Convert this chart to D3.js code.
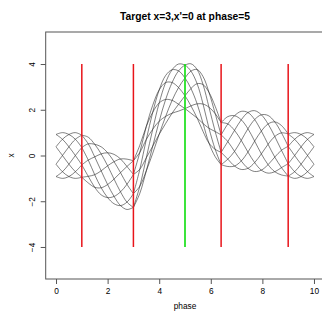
<!DOCTYPE html>
<html>
<head>
<meta charset="utf-8">
<script src="https://cdnjs.cloudflare.com/ajax/libs/d3/7.8.5/d3.min.js"></script>
<style>
body { margin: 0; background: #fff; }
text { font-family: "Liberation Sans", Arial, sans-serif; fill: #000; }
</style>
</head>
<body>
<div class="svg-container"></div>
<script>
// sample phases (shared by every trajectory)
var phase = [0, 0.25, 0.5, 0.75, 1, 1.25, 1.5, 1.75, 2, 2.25, 2.5, 2.75, 3,
    3.25, 3.5, 3.75, 4, 4.25, 4.5, 4.75, 5, 5.23, 5.47, 5.7, 5.93, 6.17, 6.4,
    6.66, 6.92, 7.18, 7.44, 7.7, 7.96, 8.22, 8.48, 8.74, 9, 9.25, 9.5, 9.75, 10];

// x values of the 8 trajectories
var traj1 = [0.92, 0.71, 0.38, 0, -0.41, -0.91, -1.39, -1.72, -1.84, -1.79, -1.59, -1.26, -0.83, 0.14, 1.27, 2.2, 2.87, 3.19, 3.19, 2.97, 2.61, 2.17, 1.64, 1.05, 0.54, 0.27, 0.14, 0.61, 1.10, 1.56, 1.88, 1.96, 1.78, 1.38, 0.83, 0.23, -0.36, -0.71, -0.92, -1, -0.92];
var traj2 = [0.38, 0, -0.38, -0.71, -0.95, -1.2, -1.39, -1.41, -1.27, -1.03, -0.75, -0.48, -0.23, 0.45, 1.27, 1.89, 2.30, 2.45, 2.41, 2.24, 2.05, 1.85, 1.64, 1.4, 1.19, 1.05, 0.9, 1.38, 1.74, 1.93, 1.88, 1.57, 1.07, 0.49, -0.07, -0.53, -0.90, -1, -0.92, -0.71, -0.38];
var traj3 = [-0.38, -0.71, -0.92, -1, -0.95, -0.91, -0.84, -0.67, -0.45, -0.27, -0.15, -0.16, -0.23, 0.14, 0.70, 1.15, 1.50, 1.71, 1.85, 1.94, 2.05, 2.17, 2.26, 2.25, 2.11, 1.83, 1.44, 1.7, 1.74, 1.56, 1.17, 0.63, 0.07, -0.40, -0.71, -0.85, -0.90, -0.71, -0.38, 0, 0.38];
var traj4 = [-0.92, -1, -0.92, -0.71, -0.41, -0.2, -0.06, 0.07, 0.12, 0.05, -0.15, -0.48, -0.83, -0.6, -0.10, 0.41, 0.93, 1.4, 1.85, 2.24, 2.61, 2.93, 3.14, 3.1, 2.76, 2.15, 1.44, 1.38, 1.10, 0.66, 0.15, -0.31, -0.64, -0.77, -0.71, -0.53, -0.36, 0, 0.38, 0.71, 0.92];
var traj5 = [-0.92, -0.71, -0.38, 0, 0.35, 0.51, 0.49, 0.38, 0.12, -0.27, -0.75, -1.26, -1.67, -1.34, -0.67, 0.1, 0.93, 1.71, 2.41, 2.97, 3.39, 3.69, 3.76, 3.45, 2.76, 1.83, 0.9, 0.61, 0.18, -0.24, -0.56, -0.70, -0.64, -0.40, -0.07, 0.23, 0.40, 0.71, 0.92, 1, 0.92];
var traj6 = [-0.38, 0, 0.38, 0.71, 0.89, 0.8, 0.49, 0.07, -0.45, -1.03, -1.59, -2.04, -2.27, -1.65, -0.67, 0.41, 1.50, 2.45, 3.19, 3.7, 3.95, 4.01, 3.76, 3.1, 2.11, 1.05, 0.14, -0.16, -0.46, -0.61, -0.56, -0.31, 0.07, 0.49, 0.83, 0.99, 0.94, 1, 0.92, 0.71, 0.38];
var traj7 = [0.38, 0.71, 0.92, 1, 0.89, 0.51, -0.06, -0.67, -1.27, -1.79, -2.19, -2.36, -2.27, -1.34, -0.10, 1.15, 2.30, 3.19, 3.75, 4.0, 3.95, 3.69, 3.14, 2.25, 1.19, 0.27, -0.4, -0.48, -0.46, -0.24, 0.15, 0.63, 1.07, 1.38, 1.47, 1.31, 0.94, 0.71, 0.38, 0, -0.38];
var traj8 = [0.92, 1, 0.92, 0.71, 0.35, -0.2, -0.84, -1.41, -1.84, -2.11, -2.19, -2.04, -1.67, -0.6, 0.70, 1.89, 2.87, 3.5, 3.75, 3.7, 3.39, 2.93, 2.26, 1.4, 0.54, -0.05, -0.4, -0.16, 0.18, 0.66, 1.17, 1.57, 1.78, 1.75, 1.47, 0.99, 0.40, 0, -0.38, -0.71, -0.92];

var trajectories = [traj1, traj2, traj3, traj4, traj5, traj6, traj7, traj8];

// via-point phases (red) and target phase (green)
var knotPhases = [1, 3, 6.4, 9];
var targetPhase = 5;
var markerRange = [-4, 4];

var xTicks = [0, 2, 4, 6, 8, 10];
var yTicks = [-4, -2, 0, 2, 4];
var title = "Target x=3,x'=0 at phase=5";

var width = 322;
var height = 320;
var plotLeft = 45.7, plotRight = 324.3, plotTop = 32, plotBottom = 279;

var svg = d3.select(".svg-container").append("svg")
    .attr("width", width)
    .attr("height", height);

// X
var x = d3.scaleLinear().domain([-0.4, 10.4]).range([plotLeft, plotRight]);
// Y
var y = d3.scaleLinear().domain([-5.4, 5.4]).range([plotBottom, plotTop]);

// trajectories, drawn piecewise between the knots so the kinks stay sharp
var breaks = [0];
knotPhases.forEach(function(k) { breaks.push(phase.indexOf(k)); });
breaks.push(phase.length - 1);

var line = d3.line()
    .x(function(d) { return x(d[0]); })
    .y(function(d) { return y(d[1]); })
    .curve(d3.curveCatmullRom);

trajectories.forEach(function(tr) {
    for (var s = 0; s < breaks.length - 1; s++) {
        var pts = [];
        for (var i = breaks[s]; i <= breaks[s + 1]; i++) {
            pts.push([phase[i], tr[i]]);
        }
        svg.append("path")
            .datum(pts)
            .attr("d", line)
            .attr("fill", "none")
            .attr("stroke", "#1a1a1a")
            .attr("stroke-opacity", 0.85)
            .attr("stroke-width", 0.65);
    }
});

// vertical markers
svg.selectAll(".knot")
    .data(knotPhases)
    .enter().append("line")
    .attr("class", "knot")
    .attr("x1", function(d) { return x(d); })
    .attr("x2", function(d) { return x(d); })
    .attr("y1", y(markerRange[0]))
    .attr("y2", y(markerRange[1]))
    .attr("stroke", "#e8141a")
    .attr("stroke-width", 1.5);

svg.append("line")
    .attr("x1", x(targetPhase))
    .attr("x2", x(targetPhase))
    .attr("y1", y(markerRange[0]))
    .attr("y2", y(markerRange[1]))
    .attr("stroke", "#19e019")
    .attr("stroke-width", 1.7);

// box
svg.append("rect")
    .attr("x", plotLeft)
    .attr("y", plotTop)
    .attr("width", plotRight - plotLeft)
    .attr("height", plotBottom - plotTop)
    .attr("fill", "none")
    .attr("stroke", "#555")
    .attr("stroke-width", 1);

// X axis
var xAxis = d3.axisBottom(x).tickValues(xTicks).tickSize(5).tickPadding(4);
var gx = svg.append("g")
    .attr("transform", "translate(0," + plotBottom + ")")
    .call(xAxis);
gx.select(".domain").remove();
gx.selectAll("line").attr("stroke", "#555");
gx.selectAll("text")
    .style("font-size", "8.3px")
    .style("font-family", "Liberation Sans, Arial, sans-serif");

// Y axis (labels parallel to axis like R)
var yAxis = d3.axisLeft(y).tickValues(yTicks).tickSize(5).tickFormat(d3.format("d"));
var gy = svg.append("g")
    .attr("transform", "translate(" + plotLeft + ",0)")
    .call(yAxis);
gy.select(".domain").remove();
gy.selectAll("line").attr("stroke", "#555");
gy.selectAll("text")
    .attr("x", 0)
    .attr("y", 0)
    .attr("dy", 0)
    .attr("transform", "translate(-11.2,0) rotate(-90)")
    .style("text-anchor", "middle")
    .style("font-size", "8.3px")
    .style("font-family", "Liberation Sans, Arial, sans-serif");

// X Axis Label
svg.append("text")
    .attr("x", (plotLeft + plotRight) / 2)
    .attr("y", 308.5)
    .style("text-anchor", "middle")
    .style("font-size", "8.3px")
    .text("phase");

// Y Axis Label
svg.append("text")
    .attr("transform", "translate(14," + y(0) + ") rotate(-90)")
    .style("text-anchor", "middle")
    .style("font-size", "8.3px")
    .text("x");

// Title
svg.append("text")
    .attr("x", (plotLeft + plotRight) / 2)
    .attr("y", 19.5)
    .style("text-anchor", "middle")
    .style("font-size", "10.3px")
    .style("font-weight", "bold")
    .text(title);
</script>
</body>
</html>
